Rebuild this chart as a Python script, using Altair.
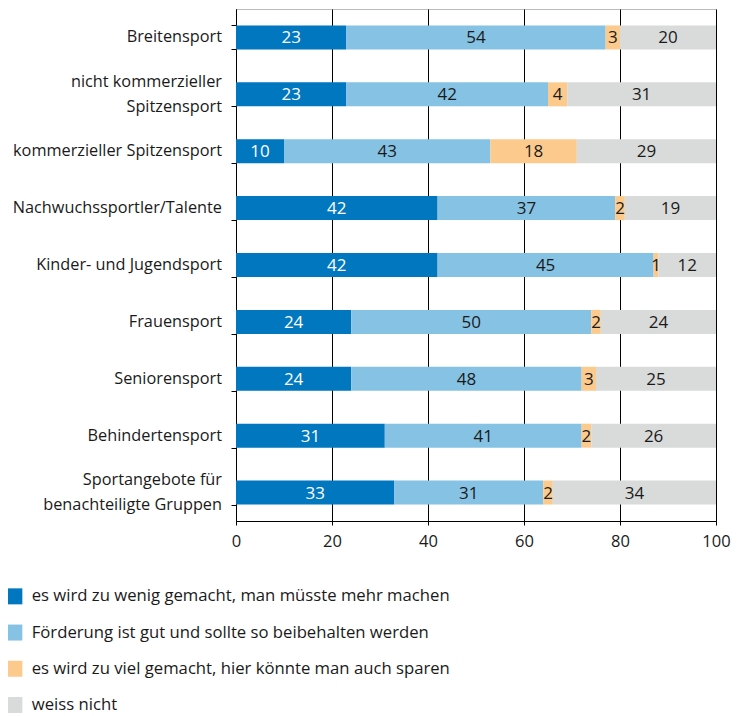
import altair as alt
import pandas as pd

categories = [
    "Breitensport",
    "nicht kommerzieller|Spitzensport",
    "kommerzieller Spitzensport",
    "Nachwuchssportler/Talente",
    "Kinder- und Jugendsport",
    "Frauensport",
    "Seniorensport",
    "Behindertensport",
    "Sportangebote für|benachteiligte Gruppen",
]
series = [
    "es wird zu wenig gemacht, man müsste mehr machen",
    "Förderung ist gut und sollte so beibehalten werden",
    "es wird zu viel gemacht, hier könnte man auch sparen",
    "weiss nicht",
]
zu_wenig = [23, 23, 10, 42, 42, 24, 24, 31, 33]
gut = [54, 42, 43, 37, 45, 50, 48, 41, 31]
zu_viel = [3, 4, 18, 2, 1, 2, 3, 2, 2]
weiss_nicht = [20, 31, 29, 19, 12, 24, 25, 26, 34]
colors = ["#0077BE", "#86C2E4", "#FDCA8E", "#D9DADA"]
text_colors = ["#FFFFFF", "#1A1A1A", "#1A1A1A", "#1A1A1A"]

rows = []
for si, vals in enumerate([zu_wenig, gut, zu_viel, weiss_nicht]):
    for ci, v in enumerate(vals):
        rows.append({"cat": categories[ci], "series": series[si], "order": si,
                     "value": v, "tcol": text_colors[si]})
df = pd.DataFrame(rows)
cat_df = pd.DataFrame({"cat": categories,
                       "two": ["|" in c for c in categories]})

FONT = "Open Sans"

base = alt.Chart(df).transform_stack(
    stack="value", groupby=["cat"], as_=["x0", "x1"],
    sort=[alt.SortField("order", order="ascending")],
).transform_calculate(mid="(datum.x0 + datum.x1) / 2")

y_scale = alt.Scale(paddingInner=0.58, paddingOuter=0.29)

y_enc = alt.Y(
    "cat:N", sort=categories, title=None, scale=y_scale,
    axis=alt.Axis(
        labels=False, tickBand="extent", tickSize=5, tickColor="#000",
        domainColor="#000",
    ),
)

bars = base.mark_bar(size=24).encode(
    x=alt.X(
        "x0:Q", title=None,
        scale=alt.Scale(domain=[0, 100], nice=False),
        axis=alt.Axis(
            values=[0, 20, 40, 60, 80, 100], grid=True, gridColor="#000",
            gridOpacity=1, domainColor="#000", tickColor="#000", tickSize=4,
            labelFont=FONT, labelFontSize=16.5, labelColor="#1A1A1A",
            labelPadding=8, labelFlush=False,
        ),
    ),
    x2="x1:Q",
    y=y_enc,
    color=alt.Color(
        "series:N", sort=series,
        scale=alt.Scale(domain=series, range=colors),
        legend=alt.Legend(
            title=None, orient="none", direction="vertical",
            legendX=-230, legendY=579,
            symbolType="square", symbolSize=256, symbolStrokeWidth=0,
            labelFont=FONT, labelFontSize=16.7, labelColor="#1A1A1A",
            rowPadding=18.2, labelOffset=9, labelLimit=600,
        ),
    ),
    order=alt.Order("order:Q"),
)

texts = base.mark_text(font=FONT, fontSize=17, baseline="middle", dy=1).encode(
    x="mid:Q",
    y=alt.Y("cat:N", sort=categories),
    text="value:Q",
    color=alt.Color("tcol:N", scale=None, legend=None),
)

lab_base = alt.Chart(cat_df)
labels_one = lab_base.transform_filter("!datum.two").mark_text(
    font=FONT, fontSize=16.3, color="#1A1A1A", align="right",
    baseline="middle", lineBreak="|", lineHeight=25,
).encode(x=alt.value(-14), y=alt.Y("cat:N", sort=categories), text="cat:N")
labels_two = lab_base.transform_filter("datum.two").mark_text(
    font=FONT, fontSize=16.3, color="#1A1A1A", align="right",
    baseline="middle", lineBreak="|", lineHeight=25, dy=-12.5,
).encode(x=alt.value(-14), y=alt.Y("cat:N", sort=categories), text="cat:N")

chart = alt.layer(bars, texts, labels_one, labels_two).properties(
    width=480, height=512,
    autosize=alt.AutoSizeParams(type="none"),
    padding={"left": 228, "top": 1, "right": 20, "bottom": 194},
).configure_view(stroke="#BBBBBB", strokeWidth=1)

chart.save("out.html", embed_options={"renderer": "svg", "actions": False})
